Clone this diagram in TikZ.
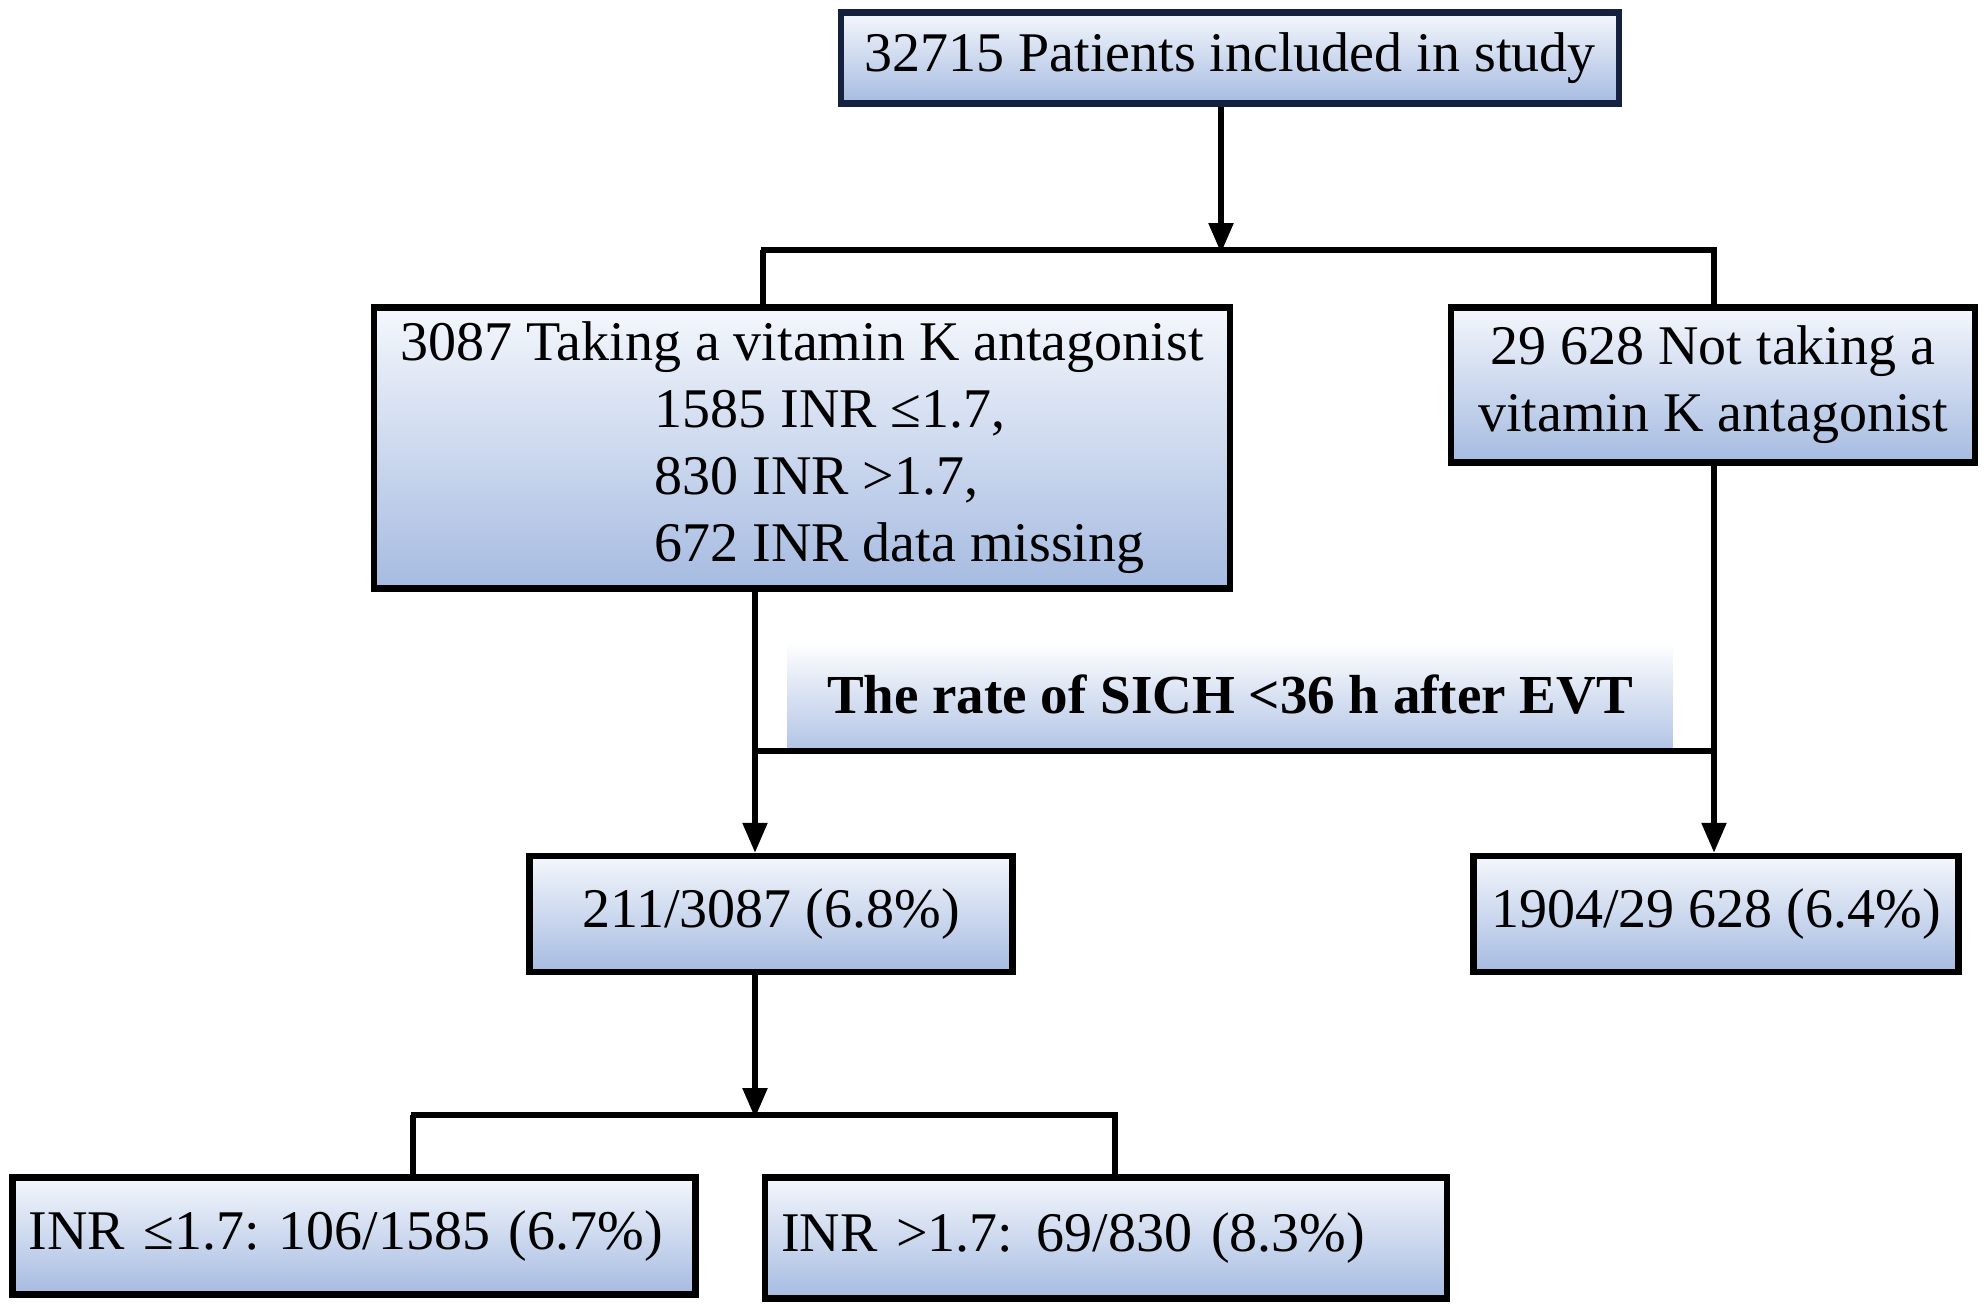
\documentclass[tikz,border=0pt]{standalone}
\usepackage{fontspec}
\setmainfont{Liberation Serif}
\usetikzlibrary{arrows.meta}
\definecolor{boxtop}{HTML}{F4F7FC}
\definecolor{boxbot}{HTML}{A6BBE1}
\definecolor{navy}{HTML}{15223F}
\begin{document}
\frenchspacing
\begin{tikzpicture}[x=1pt,y=-1pt,
  box/.style={draw=black,line width=6.5pt,top color=boxtop,bottom color=boxbot,
    inner sep=0pt,font=\fontsize{56}{67}\selectfont},
  conn/.style={line width=5.5pt,draw=black},
  arr/.style={conn,-{Triangle[width=24pt,length=30pt]}}]
\useasboundingbox (0,0) rectangle (1984,1306);
\fill[white] (0,0) rectangle (1984,1306);

% nodes
\node[box,draw=navy,minimum width=778pt,minimum height=91pt] (top) at (1230,58) {32715 Patients included in study};
\node[box,minimum width=856pt,minimum height=281pt,align=left] (vka) at (802,448)
  {3087 Taking a vitamin K antagonist\\
   \hspace*{254pt}1585 INR ≤1.7,\\
   \hspace*{254pt}830 INR >1.7,\\
   \hspace*{254pt}672 INR data missing};
\node[box,minimum width=524pt,minimum height=155pt,align=center] (novka) at (1713,385)
  {29 628 Not taking a\\vitamin K antagonist};
\node[top color=white,bottom color=boxbot!85,inner sep=0pt,minimum width=885pt,minimum height=106pt,
  font=\fontsize{55}{66}\selectfont\bfseries] (rate) at (1230,695) {The rate of SICH <36 h after EVT};
\node[box,minimum width=483pt,minimum height=116pt] (r1) at (771,914) {211/3087 (6.8\%)};
\node[box,minimum width=485pt,minimum height=116pt] (r2) at (1716,914) {1904/29 628 (6.4\%)};
\node[box,text width=651pt,align=left,inner xsep=16pt,minimum height=117pt] (b1) at (354,1236) {INR ≤1.7: 106/1585 (6.7\%)};
\node[box,text width=650pt,align=left,inner xsep=16pt,minimum height=121pt] (b2) at (1106,1238) {INR >1.7:\ \hspace{5pt}69/830 (8.3\%)};

% junction coordinates
\coordinate (s1) at (1221,250);
\coordinate (s1l) at (763,250);
\coordinate (s1r) at (1714,250);
\coordinate (s2l) at (755,751);
\coordinate (s2r) at (1714,751);
\coordinate (s3) at (755,1115);
\coordinate (s3l) at (413,1115);
\coordinate (s3r) at (1115,1115);

% connectors
\draw[arr] (s1 |- top.south) -- ([yshift=-3pt]s1);
\draw[conn] ([xshift=-2.5pt]s1l) -- ([xshift=2.5pt]s1r);
\draw[conn] (s1l) -- (s1l |- vka.north);
\draw[conn] (s1r) -- (s1r |- novka.north);
\draw[arr] (s2l |- vka.south) -- (s2l |- r1.north);
\draw[arr] (s2r |- novka.south) -- (s2r |- r2.north);
\draw[conn] ([xshift=-2.5pt]s2l) -- ([xshift=2.5pt]s2r);
\draw[arr] (s3 |- r1.south) -- ([yshift=-3pt]s3);
\draw[conn] ([xshift=-2.5pt]s3l) -- ([xshift=2.5pt]s3r);
\draw[conn] (s3l) -- (s3l |- b1.north);
\draw[conn] (s3r) -- (s3r |- b2.north);
\end{tikzpicture}
\end{document}
